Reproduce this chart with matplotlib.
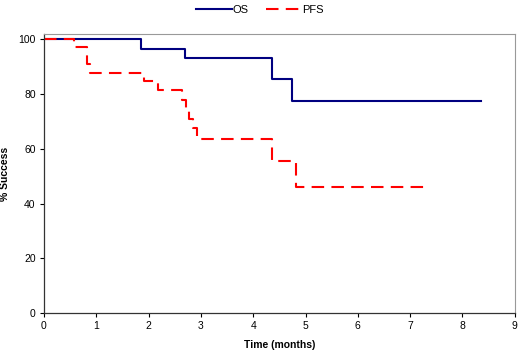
import matplotlib
matplotlib.use("Agg")
import matplotlib.pyplot as plt

plt.rcParams['font.family'] = ['Liberation Sans', 'DejaVu Sans']

# Kaplan-Meier style step data
os_time = [0, 1.85, 2.69, 4.36, 4.74, 8.35]
os_pct = [100, 96.6, 93.1, 85.4, 77.6, 77.6]

pfs_time = [0, 0.58, 0.83, 0.88, 1.92, 2.17, 2.64, 2.71, 2.78, 2.85, 2.93, 4.36, 4.82, 7.37]
pfs_pct = [100, 97.4, 91.0, 87.9, 84.8, 81.5, 78.0, 74.5, 71.0, 67.6, 63.6, 55.4, 46.2, 46.2]

xticks = list(range(0, 10))
yticks = [0, 20, 40, 60, 80, 100]

fig = plt.figure(figsize=(5.2, 3.58), dpi=100)
ax = fig.add_axes([0.0846, 0.126, 0.9054, 0.779])

ax.step(os_time, os_pct, where='post', color='#000080', lw=1.5, label='OS')
ax.step(pfs_time, pfs_pct, where='post', color='#ff0000', lw=1.5,
        dashes=(6, 3.5), label='PFS')

ax.set_xlim(0, 9)
ax.set_ylim(0, 102)
ax.set_xticks(xticks)
ax.set_yticks(yticks)
ax.tick_params(labelsize=7.5, length=3, width=0.8, direction='out', pad=3)

for s in ['top', 'right']:
    ax.spines[s].set_color('#999999')
    ax.spines[s].set_linewidth(0.8)
for s in ['left', 'bottom']:
    ax.spines[s].set_color('#333333')
    ax.spines[s].set_linewidth(0.9)

ax.set_xlabel('Time (months)', fontsize=7.5, fontweight='bold', labelpad=6)
ax.set_ylabel('% Success', fontsize=7.5, fontweight='bold')
ax.yaxis.set_label_coords(-0.072, 0.5)

fig.legend(loc='upper center', bbox_to_anchor=(0.5, 1.015), ncol=2,
           frameon=False, fontsize=8, handlelength=3.2, columnspacing=1.5,
           handletextpad=0.1)

fig.savefig('out.png', dpi=100)
